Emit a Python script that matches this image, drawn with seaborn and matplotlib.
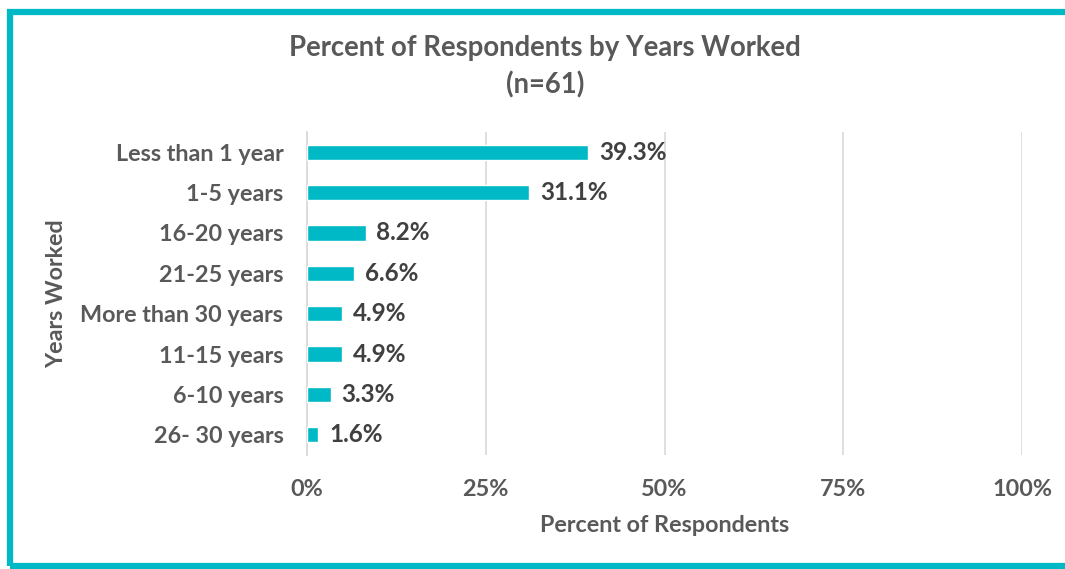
import numpy as np
import pandas as pd
import matplotlib
matplotlib.use("Agg")
import matplotlib.pyplot as plt
import seaborn as sns
from matplotlib.patches import Rectangle
from matplotlib.ticker import PercentFormatter

# 数据
categories = ["Less than 1 year", "1-5 years", "16-20 years", "21-25 years",
              "More than 30 years", "11-15 years", "6-10 years", "26- 30 years"]
percents = [39.3, 31.1, 8.2, 6.6, 4.9, 4.9, 3.3, 1.6]
x_ticks = [0, 25, 50, 75, 100]

teal = "#00B9C6"
grey = "#595959"

sns.set_theme(style="white")
plt.rcParams["font.family"] = ["Lato", "DejaVu Sans"]

df = pd.DataFrame({"years": categories, "pct": percents})

fig = plt.figure(figsize=(10.65, 5.69), dpi=100)
ax = fig.add_axes([307 / 1065, 1 - 455 / 569, 715 / 1065, 323 / 569])

sns.barplot(data=df, y="years", x="pct", color=teal, width=0.38,
            saturation=1, ax=ax, zorder=3)

ax.set_xlim(0, 100)
ax.set_xticks(x_ticks)
ax.xaxis.set_major_formatter(PercentFormatter(decimals=0))
ax.grid(axis="x", color="#D9D9D9", linewidth=1.2, zorder=0)
for s in ["top", "right", "bottom"]:
    ax.spines[s].set_visible(False)
ax.spines["left"].set_color("#D9D9D9")
ax.tick_params(axis="both", length=0, labelsize=16.8, labelcolor=grey)
ax.tick_params(axis="x", pad=17)
ax.tick_params(axis="y", pad=17)
for lab in ax.get_xticklabels() + ax.get_yticklabels():
    lab.set_fontweight("bold")

for i, v in enumerate(percents):
    ax.text(v + 1.5, i, f"{v:.1f}%", va="center", ha="left",
            fontsize=17.5, fontweight="bold", color="#404040")

ax.set_xlabel("Percent of Respondents", fontsize=16.8, fontweight="bold",
              color=grey, labelpad=11)
ax.set_ylabel("Years Worked", fontsize=16.8, fontweight="bold", color=grey)
ax.yaxis.set_label_coords(-240 / 715, 0.5)

fig.text(545 / 1065, 1 - 48 / 569, "Percent of Respondents by Years Worked",
         ha="center", va="center", fontsize=19.8, fontweight="bold", color=grey)
fig.text(545 / 1065, 1 - 85 / 569, "(n=61)",
         ha="center", va="center", fontsize=19.8, fontweight="bold", color=grey)

# 外框
fig.patches.append(Rectangle((10 / 1065, 3 / 569), 1.2, 1 - 11.5 / 569 - 3 / 569,
                             transform=fig.transFigure, fill=False,
                             edgecolor=teal, linewidth=4.5))

fig.savefig("out.png", dpi=100)
